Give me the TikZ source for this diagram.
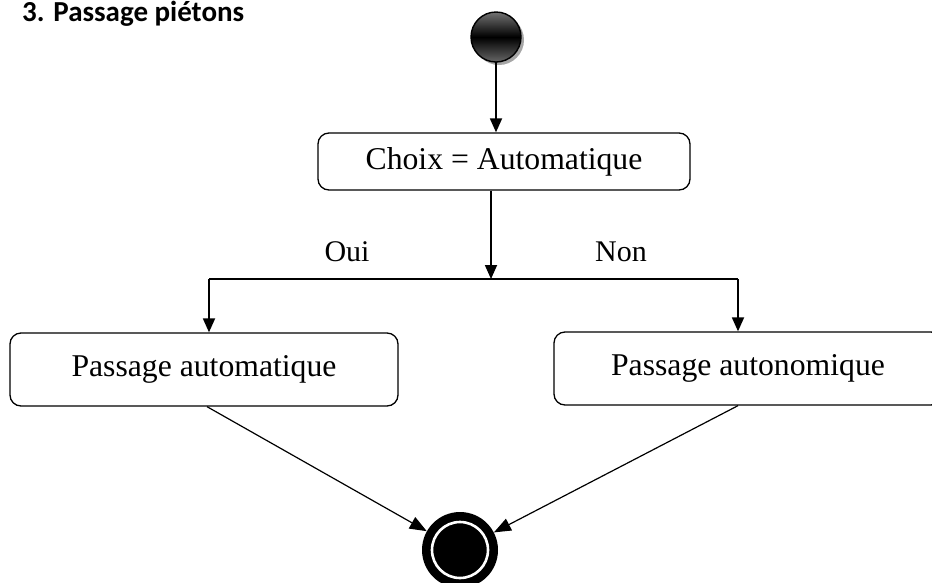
\documentclass[tikz,border=0pt]{standalone}
\usepackage{fontspec}
\setmainfont{Liberation Serif}
\newfontfamily\titlefont{Carlito}
\usetikzlibrary{arrows.meta}
\begin{document}
\begin{tikzpicture}[x=1pt,y=-1pt,
  statebox/.style={draw, line width=1.3pt, rounded corners=11pt, inner sep=0pt,
    font=\fontsize{31.7}{36}\selectfont},
  flow/.style={line width=1.8pt, -{Triangle[length=14pt,width=12pt]}},
  plainline/.style={line width=1.8pt},
  thinflow/.style={line width=1.2pt, -{Triangle[length=17pt,width=13pt]}},
  lbl/.style={font=\fontsize{30}{34}\selectfont, inner sep=0pt}]
\useasboundingbox (0,0) rectangle (932,582);

% title
\node[anchor=base west, inner sep=0pt, font=\titlefont\bfseries\fontsize{29}{34}\selectfont] (title) at (22,21) {3. Passage piétons};

% initial state with soft shadow and glossy shading
\fill[black!35] (499,40) circle (25);
\shade[top color=black!55, bottom color=black!60, middle color=black] (496,37) circle (25);
\draw[line width=1.4pt] (496,37) circle (25);
\node[circle, minimum size=50pt, inner sep=0pt] (init) at (496,37) {};

% states
\node[statebox, minimum width=372pt, minimum height=57pt] (choix) at (504,161.5) {Choix = Automatique};
\node[statebox, minimum width=388pt, minimum height=73pt] (auto) at (204,369.5) {Passage automatique};
\node[statebox, minimum width=388pt, minimum height=73pt] (autonom) at (748,368.5) {Passage autonomique};

% final state
\node[circle, fill=black, minimum size=76pt, inner sep=0pt] (final) at (460,550) {};
\draw[white, line width=2.6pt] (final.center) circle (28);

% branch
\coordinate (j) at (491,279);
\coordinate (jl) at (209,279);
\coordinate (jr) at (738,279);

\draw[flow] (init.south) -- (init.south |- choix.north);
\draw[flow] (choix.south -| j) -- (j);
\draw[plainline] (jl) -- (jr);
\draw[flow] (jl) -- (jl |- auto.north);
\draw[flow] (jr) -- (jr |- autonom.north);

\node[lbl] (oui) at (347,252) {Oui};
\node[lbl] (non) at (621,252) {Non};

% joins to the final state
\draw[thinflow] ([xshift=3pt]auto.south) -- (final);
\draw[thinflow] ([xshift=-10pt]autonom.south) -- (final);
\end{tikzpicture}
\end{document}
